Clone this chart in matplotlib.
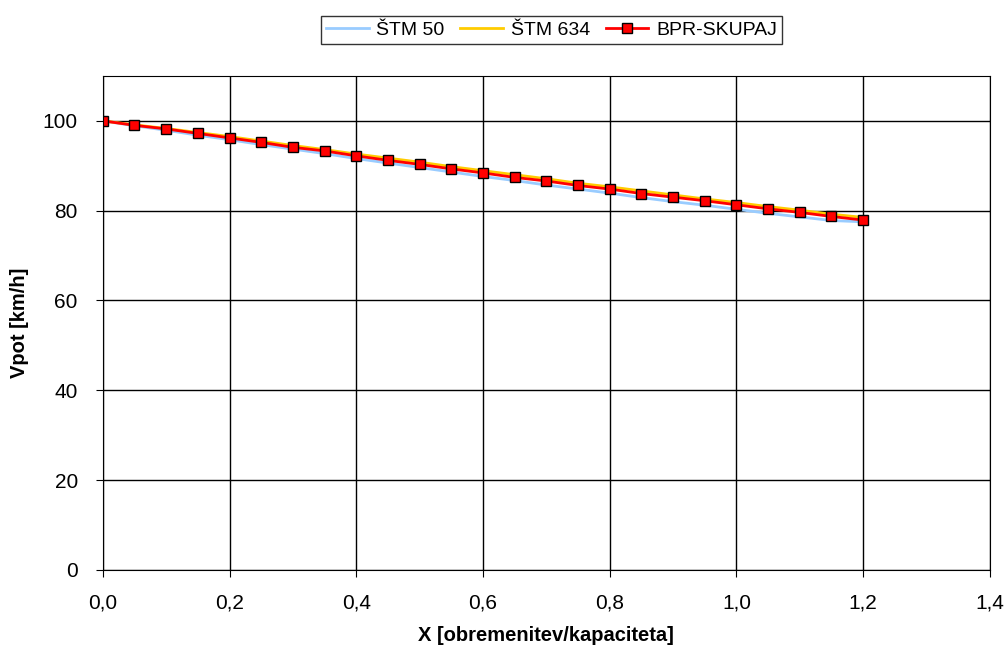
import matplotlib.pyplot as plt

plt.rcParams['font.family'] = ['Liberation Sans', 'DejaVu Sans']

# Relative load X and speed Vpot [km/h]
x = [0.00, 0.05, 0.10, 0.15, 0.20, 0.25, 0.30, 0.35, 0.40, 0.45, 0.50, 0.55,
     0.60, 0.65, 0.70, 0.75, 0.80, 0.85, 0.90, 0.95, 1.00, 1.05, 1.10, 1.15,
     1.20]
stm_50 = [100.0, 98.9, 97.9, 96.8, 95.8, 94.7, 93.7, 92.7, 91.6, 90.6, 89.6,
          88.6, 87.6, 86.7, 85.7, 84.8, 83.9, 82.9, 82.0, 81.2, 80.3, 79.4,
          78.6, 77.8, 77.5]
stm_634 = [100.0, 99.1, 98.3, 97.4, 96.5, 95.5, 94.5, 93.6, 92.6, 91.7, 90.8,
           89.8, 88.9, 88.0, 87.1, 86.1, 85.3, 84.4, 83.5, 82.6, 81.8, 80.9,
           80.1, 79.2, 78.5]
bpr_skupaj = [100.0, 99.0, 98.2, 97.2, 96.2, 95.2, 94.1, 93.3, 92.2, 91.2,
              90.3, 89.3, 88.4, 87.4, 86.6, 85.6, 84.8, 83.8, 83.0, 82.2,
              81.3, 80.4, 79.6, 78.7, 77.9]

fig = plt.figure(figsize=(10.08, 6.49), dpi=100)
ax = fig.add_axes([0.102, 0.122, 0.880, 0.761])

ax.plot(x, stm_50, color='#99ccff', lw=2, label='ŠTM 50')
ax.plot(x, stm_634, color='#ffcc00', lw=2, label='ŠTM 634')
ax.plot(x, bpr_skupaj, color='#ff0000', lw=2, marker='s', ms=6.5,
        mfc='#ff0000', mec='#000000', mew=1, label='BPR-SKUPAJ')

ax.set_xlim(0, 1.4)
ax.set_ylim(0, 110)
ax.set_xticks([0, 0.2, 0.4, 0.6, 0.8, 1.0, 1.2, 1.4])
ax.set_xticklabels(['0,0', '0,2', '0,4', '0,6', '0,8', '1,0', '1,2', '1,4'])
ax.set_yticks([0, 20, 40, 60, 80, 100])
ax.grid(True, color='#000000', lw=1)
ax.set_axisbelow(True)
ax.tick_params(labelsize=15, length=5, direction='out')
ax.tick_params(axis='x', pad=12)
ax.tick_params(axis='y', pad=13)
for s in ax.spines.values():
    s.set_color('#000000')

ax.set_xlabel('X [obremenitev/kapaciteta]', fontsize=14.5, fontweight='bold',
              labelpad=10)
ax.set_ylabel('Vpot [km/h]', fontsize=14.5, fontweight='bold', labelpad=10)

leg = fig.legend(loc='upper center', bbox_to_anchor=(0.547, 0.99), ncol=3,
                 fontsize=14, frameon=True, fancybox=False, handlelength=2.2,
                 columnspacing=0.8, handletextpad=0.4, borderpad=0.25)
leg.get_frame().set_edgecolor('#000000')
leg.get_frame().set_linewidth(1)

fig.savefig('out.png', dpi=100)
